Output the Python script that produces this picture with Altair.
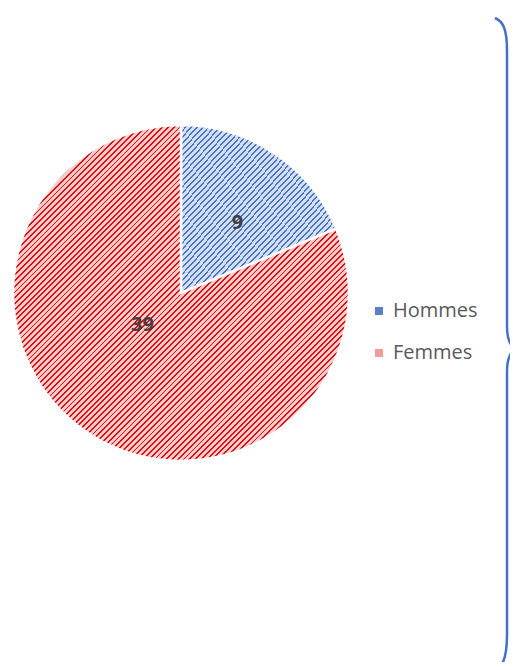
import altair as alt
import pandas as pd

# ---- data ----
categories = ["Hommes", "Femmes"]
values = [9, 39]
order = [0, 1]

df = pd.DataFrame({"cat": categories, "value": values, "ord": order})

CX, CY, R = 173, 285, 168


def stripes(dark, light, n, frac=0.32):
    stops = []
    for k in range(n):
        a = k / n
        b = (k + frac) / n
        c = (k + 1) / n
        stops += [
            alt.GradientStop(color=dark, offset=a),
            alt.GradientStop(color=dark, offset=b),
            alt.GradientStop(color=light, offset=b),
            alt.GradientStop(color=light, offset=c),
        ]
    return alt.LinearGradient(gradient="linear", stops=stops, x1=0, y1=0, x2=1, y2=1)


blue_fill = stripes("#4472C4", "#D3DEF2", 54)
red_fill = stripes("#E00A0A", "#FFC9C9", 116)

base = (
    alt.Chart(df)
    .transform_joinaggregate(total="sum(value)")
    .transform_window(cum="sum(value)", sort=[alt.SortField("ord")], frame=[None, 0])
    .transform_calculate(
        t0="(datum.cum - datum.value) / datum.total",
        t1="datum.cum / datum.total",
        tm="(datum.cum - datum.value / 2) / datum.total",
    )
)

theta_scale = alt.Scale(domain=[0, 1], range=[0, 6.283185307179586])

pie = base.mark_arc(radius=R, stroke="white", strokeWidth=2.5).encode(
    theta=alt.Theta("t0:Q", scale=theta_scale),
    theta2="t1:Q",
    x=alt.value(CX),
    y=alt.value(CY),
    color=alt.Color(
        "cat:N",
        scale=alt.Scale(domain=categories, range=["#5B80C9", "#F49A9A"]),
        sort=categories,
        legend=alt.Legend(
            title=None,
            orient="none",
            legendX=361,
            legendY=293,
            symbolType="square",
            symbolSize=64,
            symbolStrokeWidth=0,
            labelFont="Open Sans",
            labelFontSize=20,
            labelColor="#595959",
            labelOffset=4,
            rowPadding=22,
            padding=0,
        ),
    ),
)


def hatch_layer(cat, fill):
    return (
        base.transform_filter(alt.datum.cat == cat)
        .mark_arc(radius=R, stroke="white", strokeWidth=2.5, fill=fill)
        .encode(
            theta=alt.Theta("t0:Q", scale=theta_scale),
            theta2="t1:Q",
            x=alt.value(CX),
            y=alt.value(CY),
        )
    )


hatch_h = hatch_layer("Hommes", blue_fill)
hatch_f = hatch_layer("Femmes", red_fill)


def label_layer(cat, radius, offset):
    return (
        base.transform_filter(alt.datum.cat == cat)
        .mark_text(
            radius=radius,
            thetaOffset=offset,
            font="Open Sans",
            fontSize=20,
            fontWeight="bold",
            color="#404040",
            align="center",
            baseline="middle",
        )
        .encode(
            theta=alt.Theta("tm:Q", scale=theta_scale),
            x=alt.value(CX),
            y=alt.value(CY),
            text="value:Q",
        )
    )


lab_h = label_layer("Hommes", 90, 0.09)
lab_f = label_layer("Femmes", 50, 0.29)

# decorative curly brace
brace_path = (
    "M -0.037 -1 C -0.012 -0.99 0 -0.965 0 -0.9 L 0 -0.05 "
    "C 0 -0.01 0.008 0.012 0.03 0.02 C 0.008 0.028 0 0.05 0 0.09 "
    "L 0 0.9 C 0 0.96 -0.008 0.985 -0.022 1"
)
brace = (
    alt.Chart(pd.DataFrame({"k": [0]}))
    .mark_point(shape=brace_path, filled=False, stroke="#4472C4", strokeWidth=2.5, opacity=1)
    .encode(x=alt.value(499), y=alt.value(334.5), size=alt.value(649 * 649))
)

chart = (
    alt.layer(pie, hatch_h, hatch_f, lab_h, lab_f, brace)
    .properties(width=502, height=654, padding=0, autosize=alt.AutoSizeParams(type="none"))
    .configure_view(stroke=None)
)

chart.save("out.html", embed_options={"renderer": "svg", "actions": False})
